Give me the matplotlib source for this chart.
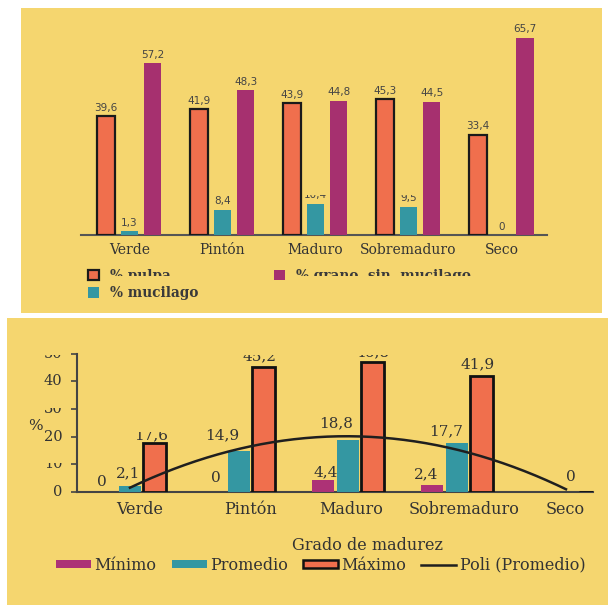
import numpy as np
import matplotlib
matplotlib.use("Agg")
import matplotlib.pyplot as plt
from matplotlib.patches import Rectangle, Patch
from matplotlib.lines import Line2D
from matplotlib.transforms import Bbox, TransformedBbox, blended_transform_factory

# ---------------- data ----------------
stages = ["Verde", "Pintón", "Maduro", "Sobremaduro", "Seco"]

# composition of the fruit (%)
pulpa = [39.6, 41.9, 43.9, 45.3, 33.4]
mucilago = [1.3, 8.4, 10.4, 9.5, 0]
grano = [57.2, 48.3, 44.8, 44.5, 65.7]

# statistics by ripeness grade (%)
minimo = [0, 0, 4.4, 2.4, 0]
promedio = [2.1, 14.9, 18.8, 17.7, 0]
maximo = [17.6, 45.2, 46.8, 41.9, 0]
y_ticks = [0, 10, 20, 30, 40, 50]

# ---------------- style ----------------
W, H = 608, 605
YELLOW = "#F5D66F"
ORANGE = "#F06F4D"
TEAL = "#3497A2"
PURPLE = "#A6306F"
MAGENTA = "#AD3276"
TXT = "#333333"
SERIF = ["DejaVu Serif"]
SANS = ["DejaVu Sans"]

fig = plt.figure(figsize=(W / 100, H / 100), dpi=100, facecolor="white")


def fx(x):
    return x / W


def fy(y):
    return 1 - y / H


def clip_above(artist, ytop):
    """Hide the part of an artist that lies above pixel row ytop."""
    box = TransformedBbox(Bbox.from_extents(0, 0, 1, fy(ytop)), fig.transFigure)
    artist.set_clip_box(box)
    artist.set_clip_on(True)


def clip_below(artist, ybot):
    box = TransformedBbox(Bbox.from_extents(0, fy(ybot), 1, 1), fig.transFigure)
    artist.set_clip_box(box)
    artist.set_clip_on(True)


def fmt(v):
    return "0" if v == 0 else f"{v:.1f}".replace(".", ",")


# panel backgrounds
fig.patches.append(Rectangle((fx(21), fy(313)), fx(602) - fx(21), fy(8) - fy(313),
                             transform=fig.transFigure, facecolor=YELLOW, edgecolor="none", zorder=-10))
fig.patches.append(Rectangle((fx(7), fy(605)), fx(608) - fx(7), fy(318) - fy(605),
                             transform=fig.transFigure, facecolor=YELLOW, edgecolor="none", zorder=-10))

# ================= top chart =================
x = np.arange(len(stages))
ax1 = fig.add_axes([fx(81), fy(235), (547 - 81) / W, 210 / H])
ax1.set_facecolor("none")
ax1.set_xlim(-0.52, 4.49)
ax1.set_ylim(0, 70)
for s in ["top", "right", "left"]:
    ax1.spines[s].set_visible(False)
ax1.spines["bottom"].set_color("#555555")
ax1.spines["bottom"].set_linewidth(1.5)
ax1.set_yticks([])

step, bw = 0.25, 0.19
b_p = ax1.bar(x - step, pulpa, bw, color=ORANGE, edgecolor="#1a1a1a", linewidth=1.6, zorder=3)
b_m = ax1.bar(x, mucilago, bw, color=TEAL, edgecolor="none", zorder=3)
b_g = ax1.bar(x + step, grano, bw, color=PURPLE, edgecolor="none", zorder=3)

top_labels = []
for xs, vals in [(x - step, pulpa), (x, mucilago), (x + step, grano)]:
    row = []
    for xi, v in zip(xs, vals):
        t = ax1.annotate(fmt(v), (xi, v), xytext=(0, 2.5), textcoords="offset points",
                         ha="center", va="bottom", fontsize=7.5, family=SANS, color="#444444")
        row.append(t)
    top_labels.append(row)
clip_above(top_labels[1][2], 195)
clip_above(top_labels[1][3], 195)

ax1.set_xticks(x, stages, family=SERIF, fontsize=10, color=TXT)
ax1.tick_params(axis="x", length=0, pad=6)

leg1 = ax1.legend([b_p, b_m, b_g], ["% pulpa", "% mucilago", "% grano  sin  mucilago"],
                  ncol=2, frameon=False, loc="upper left",
                  bbox_to_anchor=(fx(88), fy(269)), bbox_transform=fig.transFigure,
                  prop={"family": SERIF, "size": 9.8, "weight": "bold"},
                  handlelength=0.8, handleheight=0.8, handletextpad=0.8,
                  columnspacing=5.6, labelspacing=0.25, borderpad=0, borderaxespad=0)
for t in leg1.get_texts():
    t.set_color("#3a3a3a")
clip_below(leg1.get_texts()[0], 275.5)
clip_below(leg1.get_texts()[2], 275.5)

# ================= bottom chart =================
ax2 = fig.add_axes([fx(77), fy(492), 516 / W, (492 - 353.5) / H])
ax2.set_facecolor("none")
ax2.set_xlim(-0.486, 4.248)
ax2.set_ylim(0, 50)
for s in ["top", "right"]:
    ax2.spines[s].set_visible(False)
for s in ["left", "bottom"]:
    ax2.spines[s].set_color("#444444")
    ax2.spines[s].set_linewidth(1.5)

off, w2 = 0.229, 0.21
c_min = ax2.bar(x - off, minimo, w2, color=MAGENTA, edgecolor="none", zorder=3)
c_pro = ax2.bar(x, promedio, w2, color=TEAL, edgecolor="none", zorder=3)
c_max = ax2.bar(x + off, maximo, w2, color=ORANGE, edgecolor="#111111", linewidth=2, zorder=3)

# polynomial (order 2) trend of the average
coef = np.polyfit(x, promedio, 2)
xs = np.linspace(0, 4, 200)
trend, = ax2.plot(xs, np.polyval(coef, xs), color="#1f1f1f", lw=1.8, zorder=5)

# y ticks and labels
ax2.set_yticks(y_ticks)
ax2.set_yticklabels([])
ax2.tick_params(axis="y", direction="out", length=4, width=1.2, color="#444444")
ax2.set_xticks([])
blend = blended_transform_factory(ax2.transAxes, ax2.transData)
yt_labels = []
for v in y_ticks:
    t = ax2.text(-0.028, v, str(v), transform=blend, ha="right", va="center",
                 family=SERIF, fontsize=10.5, color=TXT, clip_on=False)
    yt_labels.append(t)
clip_above(yt_labels[5], 355)
clip_above(yt_labels[3], 408)
clip_above(yt_labels[1], 463)
fig.text(fx(35), fy(426), "%", ha="center", va="center", family=SERIF, fontsize=11, color=TXT)

# category labels
cat_nudge = [10, 12, 3, 7, -1]
for i, (name, dx) in enumerate(zip(stages, cat_nudge)):
    ax2.annotate(name, (i, 0), xytext=(dx * 0.72, -17 * 0.72), textcoords="offset points",
                 ha="center", va="center", family=SERIF, fontsize=11.5, color=TXT)

fig.text(fx(368), fy(545), "Grado de madurez", ha="center", va="center",
         family=SERIF, fontsize=11.5, color=TXT)

# value labels (pixel offsets of the label centre from the bar top)
min_off = [(-3.5, 10), (2, 14), (3, 8), (-6, 11), None]
pro_off = [(-2, 13), (-17, 15), (-12, 17), (-11, 12), (4.5, 15)]
max_off = [(-4, 8), (-4, 10), (0, 10), (-4.5, 12), None]
val_labels = {}
for name, pos, vals, offs in [("min", x - off, minimo, min_off),
                              ("pro", x, promedio, pro_off),
                              ("max", x + off, maximo, max_off)]:
    for i, (xi, v, o) in enumerate(zip(pos, vals, offs)):
        if o is None:
            continue
        t = ax2.annotate(fmt(v), (xi, v), xytext=(o[0] * 0.72, o[1] * 0.72),
                         textcoords="offset points", ha="center", va="center",
                         family=SERIF, fontsize=11, color=TXT, zorder=6)
        val_labels[(name, i)] = t
clip_above(val_labels[("max", 1)], 355)
clip_above(val_labels[("max", 2)], 355)
clip_above(val_labels[("max", 0)], 432)

handles = [Patch(facecolor=MAGENTA, edgecolor="none"),
           Patch(facecolor=TEAL, edgecolor="none"),
           Patch(facecolor=ORANGE, edgecolor="#111111", linewidth=1.8),
           Line2D([], [], color="#1f1f1f", lw=1.8)]
leg2 = fig.legend(handles, ["Mínimo", "Promedio", "Máximo", "Poli (Promedio)"],
                  ncol=4, frameon=False, loc="center left",
                  bbox_to_anchor=(fx(56), fy(565)), bbox_transform=fig.transFigure,
                  prop={"family": SERIF, "size": 11.5},
                  handlelength=2.2, handleheight=0.4, handletextpad=0.2,
                  columnspacing=0.95, borderpad=0, borderaxespad=0)
for t in leg2.get_texts():
    t.set_color(TXT)

fig.savefig("out.png", dpi=100, facecolor="white")
